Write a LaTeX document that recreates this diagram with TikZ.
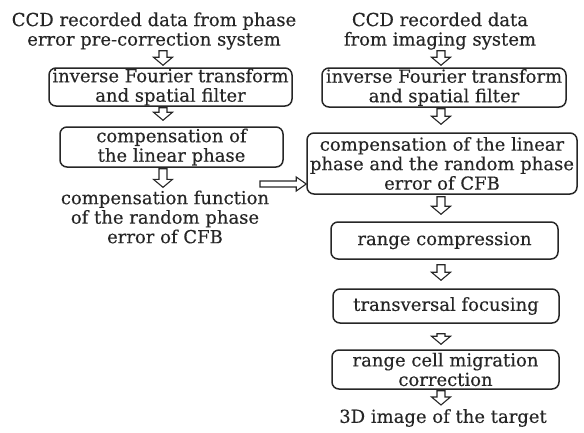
\documentclass[tikz,border=0pt]{standalone}
\usepackage{fontspec}
\setmainfont{DejaVu Serif}[FakeBold=0.35]
\usetikzlibrary{calc}
\definecolor{ink}{HTML}{262626}
\newcommand\darr[5]{\draw[barrow] let \p1=(#2), \p2=(#3) in
 ({#1pt-4pt},{\y1-#4pt}) -- ({#1pt+4pt},{\y1-#4pt}) -- ({#1pt+4pt},{\y2+#5pt+8pt}) -- ({#1pt+9.5pt},{\y2+#5pt+8pt}) -- ({#1pt},{\y2+#5pt}) -- ({#1pt-9.5pt},{\y2+#5pt+8pt}) -- ({#1pt-4pt},{\y2+#5pt+8pt}) -- cycle;}
\begin{document}
\begin{tikzpicture}[x=1pt,y=-1pt,
  font=\fontsize{18}{19.5}\selectfont,
  every node/.style={text=ink},
  box/.style={draw=ink, line width=1.5pt, rounded corners=7pt, align=center, inner sep=0pt},
  txt/.style={align=center, inner sep=0pt},
  barrow/.style={draw=ink, line width=1.1pt, fill=white, line join=miter}]
\useasboundingbox (0,0) rectangle (584,432);
% left column
\node[txt] (lt) at (154,31) {CCD recorded data from phase\\error pre-correction system};
\node[box, minimum width=243pt, minimum height=38pt] (l1) at (170.5,87) {inverse Fourier transform\\and spatial filter};
\node[box, minimum width=223pt, minimum height=40pt] (l2) at (171.5,147) {compensation of\\the linear phase};
\node[txt] (lb) at (165,217) {compensation function\\of the random phase\\error of CFB};
% right column
\node[txt] (rt) at (440,31) {CCD recorded data\\from imaging system};
\node[box, minimum width=244pt, minimum height=39pt] (r1) at (444,87.5) {inverse Fourier transform\\and spatial filter};
\node[box, minimum width=270pt, minimum height=61pt] (r2) at (442,163.5) {compensation of the linear\\phase and the random phase\\error of CFB};
\node[box, minimum width=227pt, minimum height=37pt] (r3) at (444.5,240.5) {range compression};
\node[box, minimum width=226pt, minimum height=34pt] (r4) at (446,306) {transversal focusing};
\node[box, minimum width=227pt, minimum height=39pt] (r5) at (445.5,369.5) {range cell migration\\correction};
\node[txt] (rb) at (443,418) {3D image of the target};
% arrows
\darr{163}{lt.south}{l1.north}{1}{2}
\darr{163}{l1.south}{l2.north}{1}{6}
\darr{163}{l2.south}{lb.north}{1}{3}
\darr{441}{rt.south}{r1.north}{1}{2}
\darr{441}{r1.south}{r2.north}{1}{8}
\darr{441}{r2.south}{r3.north}{2}{7}
\darr{441}{r3.south}{r4.north}{5}{8}
\darr{441}{r4.south}{r5.north}{10}{5}
\darr{441}{r5.south}{rb.north}{1}{4}
\coordinate (hs) at (260,184);
\draw[barrow] let \p1=(hs), \p2=(r2.west) in (\x1,{\y1+3pt}) -- ({\x2-10pt},{\y1+3pt}) -- ({\x2-10pt},{\y1+7pt}) -- (\x2,\y1) -- ({\x2-10pt},{\y1-7pt}) -- ({\x2-10pt},{\y1-3pt}) -- (\x1,{\y1-3pt}) -- cycle;
\end{tikzpicture}
\end{document}
